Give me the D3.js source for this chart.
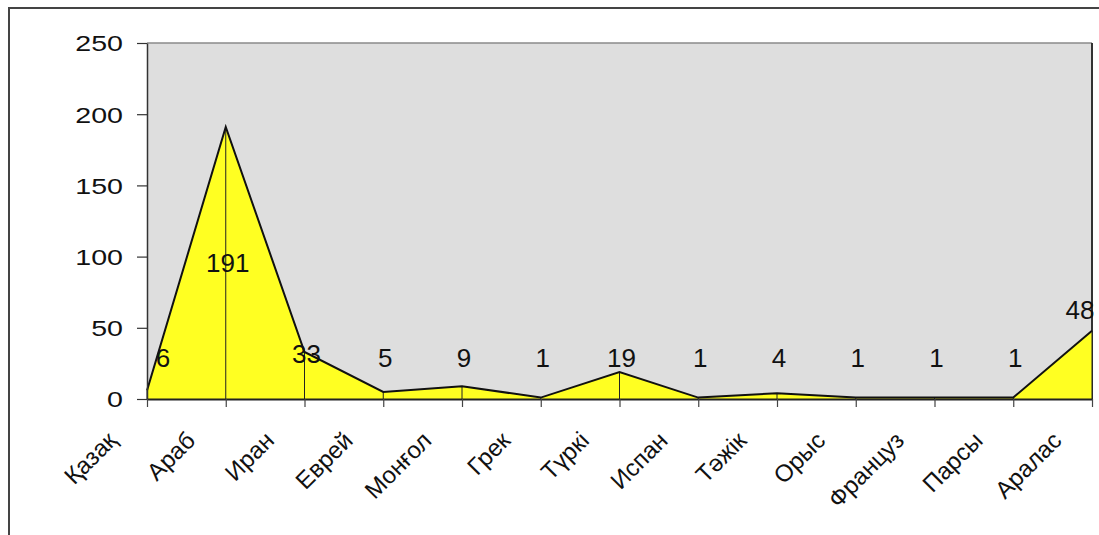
<!DOCTYPE html>
<html>
<head>
<meta charset="utf-8">
<script src="https://cdn.jsdelivr.net/npm/d3@7/dist/d3.min.js"></script>
<style>
  html, body { margin: 0; padding: 0; background: #fff; }
  svg { display: block; }
  text { font-family: Arial, "Liberation Sans", sans-serif; fill: #111; }
</style>
</head>
<body>
<svg id="chart" width="1099" height="535"></svg>
<script>
const categories = ["Қазақ", "Араб", "Иран", "Еврей", "Монғол", "Грек", "Түркі", "Испан", "Тәжік", "Орыс", "Француз", "Парсы", "Аралас"];
const values = [6, 191, 33, 5, 9, 1, 19, 1, 4, 1, 1, 1, 48];
const yTicks = [0, 50, 100, 150, 200, 250];
const garbledLabels = {"Қазақ": "#666", "Монғол": "#555", "Түркі": "#999", "Тәжік": "#888"};

const svg = d3.select("#chart");
const W = 1099, H = 535;
const m = {left: 147, right: 1092, top: 43, bottom: 399};

// outer frame (only top and left visible)
svg.append("rect").attr("x", 9).attr("y", 8).attr("width", W + 20).attr("height", H + 20)
  .attr("fill", "#fff").attr("stroke", "#444").attr("stroke-width", 2);

const x = d3.scalePoint().domain(categories).range([m.left, m.right]);
const y = d3.scaleLinear().domain([0, 250]).range([m.bottom, m.top]);

// plot background
svg.append("rect").attr("x", m.left).attr("y", m.top)
  .attr("width", m.right - m.left).attr("height", m.bottom - m.top)
  .attr("fill", "#dedede");
svg.append("line").attr("x1", m.left).attr("x2", m.right).attr("y1", m.top).attr("y2", m.top)
  .attr("stroke", "#8a8a8a").attr("stroke-width", 1.5);
svg.append("line").attr("x1", m.right).attr("x2", m.right).attr("y1", m.top).attr("y2", m.bottom)
  .attr("stroke", "#333").attr("stroke-width", 2);

const data = categories.map((c, i) => ({c, v: values[i]}));

// area
const area = d3.area().x(d => x(d.c)).y0(y(0)).y1(d => y(d.v));
svg.append("path").datum(data).attr("d", area).attr("fill", "#ffff22");

// drop lines
svg.selectAll("line.drop").data(data).enter().append("line")
  .attr("class", "drop")
  .attr("x1", d => x(d.c)).attr("x2", d => x(d.c))
  .attr("y1", d => y(d.v)).attr("y2", y(0))
  .attr("stroke", "#222").attr("stroke-width", 1);

// line
const line = d3.line().x(d => x(d.c)).y(d => y(d.v));
svg.append("path").datum(data).attr("d", line)
  .attr("fill", "none").attr("stroke", "#111").attr("stroke-width", 2).attr("stroke-linejoin", "miter");

// y axis
const yAxis = d3.axisLeft(y).tickValues(yTicks).tickSize(10).tickSizeOuter(0).tickPadding(14);
const gy = svg.append("g").attr("transform", `translate(${m.left},0)`).call(yAxis);
gy.select(".domain").attr("stroke", "#333").attr("stroke-width", 1.5);
gy.selectAll(".tick line").attr("stroke", "#333").attr("stroke-width", 1.2);
gy.selectAll(".tick text")
  .style("font-size", "22px").style("font-family", "Arial, 'Liberation Sans', sans-serif")
  .attr("fill", "#111").attr("text-anchor", "end")
  .attr("x", 0).attr("dy", "0.36em")
  .attr("transform", "translate(-24,0) scale(1.3,1)");

// x axis
const xAxis = d3.axisBottom(x).tickSize(8).tickSizeOuter(0).tickFormat("");
const gx = svg.append("g").attr("transform", `translate(0,${m.bottom})`).call(xAxis);
gx.select(".domain").attr("stroke", "#222").attr("stroke-width", 2);
gx.selectAll(".tick line").attr("stroke", "#444").attr("stroke-width", 1.2);

// x labels rotated
svg.selectAll("text.xl").data(categories).enter().append("text")
  .attr("class", "xl")
  .attr("text-anchor", "end")
  .attr("transform", d => `translate(${x(d) - 29},${442}) rotate(-45)`)
  .style("font-size", "24px")
  .attr("fill", d => garbledLabels[d] || "#111")
  .text(d => d);

// data labels
svg.selectAll("text.dl").data(data).enter().append("text")
  .attr("class", "dl")
  .attr("text-anchor", "middle")
  .attr("dy", "0.36em")
  .style("font-size", "26px")
  .attr("x", d => Math.min(Math.max(x(d.c) + 2, m.left + 16), m.right - 12))
  .attr("y", d => d.v > 100 ? y(d.v / 2) : (d.v > 40 ? y(d.v) - 21 : Math.min(y(d.v) + 2, 358)))
  .text(d => d.v);
</script>
</body>
</html>
